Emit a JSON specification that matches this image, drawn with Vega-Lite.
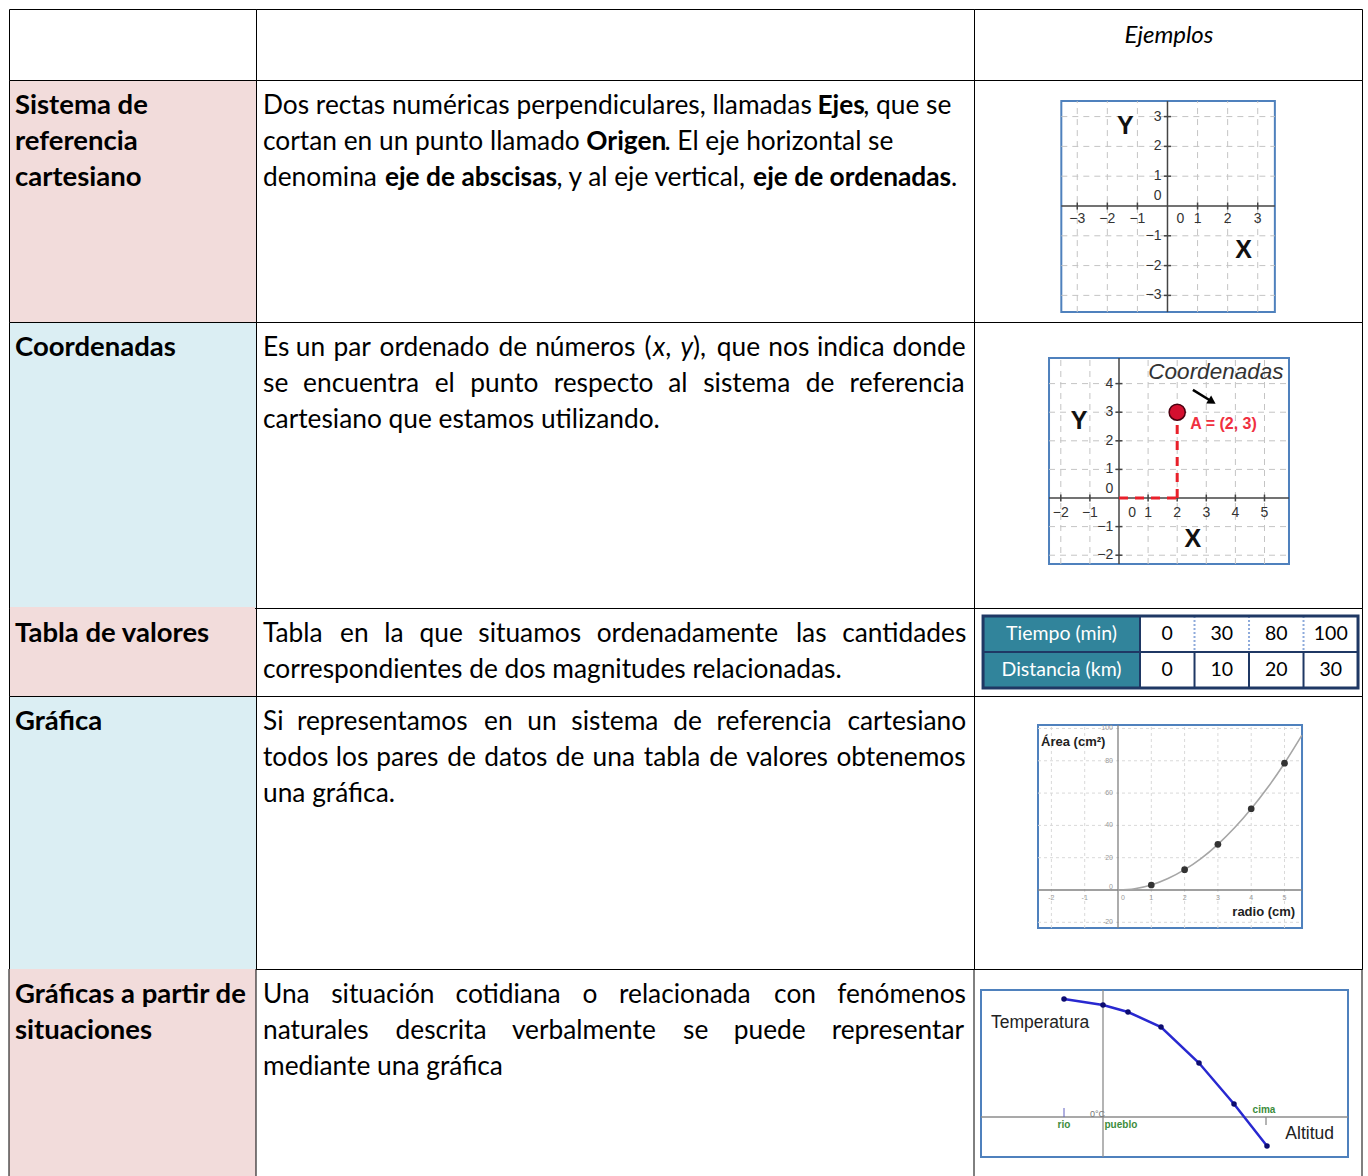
{
"$schema":"https://vega.github.io/schema/vega-lite/v6.json",
"padding":{"left":8,"top":8,"right":7,"bottom":0},
"background":"white",
"columns":3,
"spacing":0,
"align":"each",
"bounds":"flush",
"config":{"view":{"stroke":"black","strokeWidth":1},"concat":{"spacing":0},"text":{"font":"Lato"}},
"concat":[
 {"width":247,"height":71,"data":{"values":[{"t":"","x":6,"line":0}]},
  "mark":{"type":"text","align":"left","baseline":"alphabetic","font":"Lato","fontSize":24,"color":"black"},
  "encoding":{"x":{"field":"x","type":"quantitative","scale":{"domain":[0,247],"nice":false,"zero":false},"axis":null},
   "y":{"field":"line","type":"quantitative","scale":{"domain":[-0.95,1.033],"reverse":true,"nice":false,"zero":false},"axis":null},
   "text":{"field":"t"}}},
 {"width":718,"height":71,"data":{"values":[{"t":"","x":7,"line":0}]},
  "mark":{"type":"text","align":"left","baseline":"alphabetic","font":"Lato","fontSize":24,"color":"black"},
  "encoding":{"x":{"field":"x","type":"quantitative","scale":{"domain":[0,718],"nice":false,"zero":false},"axis":null},
   "y":{"field":"line","type":"quantitative","scale":{"domain":[-0.95,1.033],"reverse":true,"nice":false,"zero":false},"axis":null},
   "text":{"field":"t"}}},
 {"width":388,"height":71,"data":{"values":[{"t":"Ejemplos","x":195,"line":0}]},
  "mark":{"type":"text","align":"center","baseline":"alphabetic","font":"Lato","fontSize":24,"fontStyle":"italic","color":"black"},
  "encoding":{"x":{"field":"x","type":"quantitative","scale":{"domain":[0,388],"nice":false,"zero":false},"axis":null},
   "y":{"field":"line","type":"quantitative","scale":{"domain":[-0.95,1.033],"reverse":true,"nice":false,"zero":false},"axis":null},
   "text":{"field":"t"}}},
 {"width":247,"height":242,"view":{"fill":"#f2dcdb"},
  "data":{"values":[{"t":"Sistema de","x":6,"line":0},{"t":"referencia","x":6,"line":1},{"t":"cartesiano","x":6,"line":2}]},
  "mark":{"type":"text","align":"left","baseline":"alphabetic","font":"Lato","fontSize":27.5,"fontWeight":"bold","color":"black"},
  "encoding":{"x":{"field":"x","type":"quantitative","scale":{"domain":[0,247],"nice":false,"zero":false},"axis":null},
   "y":{"field":"line","type":"quantitative","scale":{"domain":[-0.95,5.81],"reverse":true,"nice":false,"zero":false},"axis":null},
   "text":{"field":"t"}}},
 {"width":718,"height":242,
  "data":{"values":[
   {"line":0,"x":7,"t":"Dos rectas numéricas perpendiculares, llamadas","s":"n"},
   {"line":0,"x":561.5,"t":"Ejes","s":"b"},
   {"line":0,"x":607.3,"t":", que se","s":"n"},
   {"line":1,"x":7,"t":"cortan en un punto llamado","s":"n"},
   {"line":1,"x":330.3,"t":"Origen","s":"b"},
   {"line":1,"x":408.4,"t":". El eje horizontal se","s":"n"},
   {"line":2,"x":7,"t":"denomina","s":"n"},
   {"line":2,"x":128.9,"t":"eje de abscisas","s":"b"},
   {"line":2,"x":300.5,"t":", y al eje vertical,","s":"n"},
   {"line":2,"x":497.1,"t":"eje de ordenadas","s":"b"},
   {"line":2,"x":695,"t":".","s":"n"}]},
  "encoding":{"x":{"field":"x","type":"quantitative","scale":{"domain":[0,718],"nice":false,"zero":false},"axis":null},
   "y":{"field":"line","type":"quantitative","scale":{"domain":[-0.95,5.81],"reverse":true,"nice":false,"zero":false},"axis":null},
   "text":{"field":"t"}},
  "layer":[
   {"transform":[{"filter":"datum.s === 'n'"}],"mark":{"type":"text","align":"left","baseline":"alphabetic","font":"Lato","fontSize":26.3,"color":"black"}},
   {"transform":[{"filter":"datum.s === 'b'"}],"mark":{"type":"text","align":"left","baseline":"alphabetic","font":"Lato","fontSize":26.3,"fontWeight":"bold","color":"black"}}
  ]},
 {"width":388,"height":242,"layer":[
  {"data":{"values":[{"x0":-3.53,"x1":3.57,"y0":-3.56,"y1":3.52}]},"mark":{"type":"rect","fill":"white","stroke":"#4f81bd","strokeWidth":2},
   "encoding":{"x":{"field":"x0","type":"quantitative","scale":{"domain":[-6.433,6.467],"nice":false,"zero":false},"axis":null},"x2":{"field":"x1"},
    "y":{"field":"y0","type":"quantitative","scale":{"domain":[-3.893,4.228],"nice":false,"zero":false},"axis":null},"y2":{"field":"y1"}}},
  {"data":{"values":[{"v":-3},{"v":-2},{"v":-1},{"v":1},{"v":2},{"v":3}]},"mark":{"type":"rule","color":"#c4c4c4","strokeWidth":1,"strokeDash":[6,5]},
   "encoding":{"x":{"field":"v","type":"quantitative","scale":{"domain":[-6.433,6.467],"nice":false,"zero":false},"axis":null},
    "y":{"datum":-3.56,"type":"quantitative","scale":{"domain":[-3.893,4.228],"nice":false,"zero":false},"axis":null},"y2":{"datum":3.52}}},
  {"data":{"values":[{"v":-3},{"v":-2},{"v":-1},{"v":1},{"v":2},{"v":3}]},"mark":{"type":"rule","color":"#c4c4c4","strokeWidth":1,"strokeDash":[6,5]},
   "encoding":{"y":{"field":"v","type":"quantitative","scale":{"domain":[-3.893,4.228],"nice":false,"zero":false},"axis":null},
    "x":{"datum":-3.53,"type":"quantitative","scale":{"domain":[-6.433,6.467],"nice":false,"zero":false},"axis":null},"x2":{"datum":3.57}}},
  {"data":{"values":[{"x0":-3.53,"x1":3.57,"y0":0,"y1":0},{"x0":0,"x1":0,"y0":-3.56,"y1":3.52}]},"mark":{"type":"rule","color":"#444444","strokeWidth":1.5},
   "encoding":{"x":{"field":"x0","type":"quantitative","scale":{"domain":[-6.433,6.467],"nice":false,"zero":false},"axis":null},"x2":{"field":"x1"},
    "y":{"field":"y0","type":"quantitative","scale":{"domain":[-3.893,4.228],"nice":false,"zero":false},"axis":null},"y2":{"field":"y1"}}},
  {"data":{"values":[{"v":-3},{"v":-2},{"v":-1},{"v":1},{"v":2},{"v":3}]},"mark":{"type":"rule","color":"#444444","strokeWidth":1.5},
   "encoding":{"x":{"field":"v","type":"quantitative","scale":{"domain":[-6.433,6.467],"nice":false,"zero":false},"axis":null},
    "y":{"datum":-0.12,"type":"quantitative","scale":{"domain":[-3.893,4.228],"nice":false,"zero":false},"axis":null},"y2":{"datum":0.12}}},
  {"data":{"values":[{"v":-3},{"v":-2},{"v":-1},{"v":1},{"v":2},{"v":3}]},"mark":{"type":"rule","color":"#444444","strokeWidth":1.5},
   "encoding":{"y":{"field":"v","type":"quantitative","scale":{"domain":[-3.893,4.228],"nice":false,"zero":false},"axis":null},
    "x":{"datum":-0.12,"type":"quantitative","scale":{"domain":[-6.433,6.467],"nice":false,"zero":false},"axis":null},"x2":{"datum":0.12}}},
  {"data":{"values":[{"x":-3,"y":-0.45,"t":"−3"},{"x":-2,"y":-0.45,"t":"−2"},{"x":-1,"y":-0.45,"t":"−1"},{"x":0.43,"y":-0.45,"t":"0"},{"x":1,"y":-0.45,"t":"1"},{"x":2,"y":-0.45,"t":"2"},{"x":3,"y":-0.45,"t":"3"}]},
   "mark":{"type":"text","font":"Liberation Sans","fontSize":14,"color":"#333333","align":"center","baseline":"middle"},
   "encoding":{"x":{"field":"x","type":"quantitative","scale":{"domain":[-6.433,6.467],"nice":false,"zero":false},"axis":null},
    "y":{"field":"y","type":"quantitative","scale":{"domain":[-3.893,4.228],"nice":false,"zero":false},"axis":null},"text":{"field":"t"}}},
  {"data":{"values":[{"x":-0.2,"y":3,"t":"3"},{"x":-0.2,"y":2,"t":"2"},{"x":-0.2,"y":1,"t":"1"},{"x":-0.2,"y":0.33,"t":"0"},{"x":-0.2,"y":-1,"t":"−1"},{"x":-0.2,"y":-2,"t":"−2"},{"x":-0.2,"y":-3,"t":"−3"}]},
   "mark":{"type":"text","font":"Liberation Sans","fontSize":14,"color":"#333333","align":"right","baseline":"middle"},
   "encoding":{"x":{"field":"x","type":"quantitative","scale":{"domain":[-6.433,6.467],"nice":false,"zero":false},"axis":null},
    "y":{"field":"y","type":"quantitative","scale":{"domain":[-3.893,4.228],"nice":false,"zero":false},"axis":null},"text":{"field":"t"}}},
  {"data":{"values":[{"x":-1.4,"y":2.68,"t":"Y"},{"x":2.53,"y":-1.48,"t":"X"}]},
   "mark":{"type":"text","font":"Liberation Sans","fontSize":25,"fontWeight":"bold","color":"#111111","align":"center","baseline":"middle"},
   "encoding":{"x":{"field":"x","type":"quantitative","scale":{"domain":[-6.433,6.467],"nice":false,"zero":false},"axis":null},
    "y":{"field":"y","type":"quantitative","scale":{"domain":[-3.893,4.228],"nice":false,"zero":false},"axis":null},"text":{"field":"t"}}}
 ]},
 {"width":247,"height":286,"view":{"fill":"#dbeef3"},
  "data":{"values":[{"t":"Coordenadas","x":6,"line":0}]},
  "mark":{"type":"text","align":"left","baseline":"alphabetic","font":"Lato","fontSize":27.5,"fontWeight":"bold","color":"black"},
  "encoding":{"x":{"field":"x","type":"quantitative","scale":{"domain":[0,247],"nice":false,"zero":false},"axis":null},
   "y":{"field":"line","type":"quantitative","scale":{"domain":[-0.95,7.039],"reverse":true,"nice":false,"zero":false},"axis":null},
   "text":{"field":"t"}}},
 {"width":718,"height":286,
  "data":{"values":[
   {"line":0,"x":7,"t":"Es","s":"n"},{"line":0,"x":39.8,"t":"un","s":"n"},{"line":0,"x":77.4,"t":"par","s":"n"},{"line":0,"x":123.5,"t":"ordenado","s":"n"},
   {"line":0,"x":242.4,"t":"de","s":"n"},{"line":0,"x":279.2,"t":"números","s":"n"},{"line":0,"x":388.6,"t":"(","s":"n"},{"line":0,"x":397.1,"t":"x","s":"i"},
   {"line":0,"x":409.2,"t":",","s":"n"},{"line":0,"x":424.4,"t":"y","s":"i"},{"line":0,"x":437.1,"t":"),","s":"n"},{"line":0,"x":460.8,"t":"que","s":"n"},
   {"line":0,"x":512.3,"t":"nos","s":"n"},{"line":0,"x":560.9,"t":"indica","s":"n"},{"line":0,"x":636.6,"t":"donde","s":"n"},
   {"line":1,"x":7,"t":"se","s":"n"},{"line":1,"x":47.1,"t":"encuentra","s":"n"},{"line":1,"x":178.7,"t":"el","s":"n"},{"line":1,"x":214.3,"t":"punto","s":"n"},
   {"line":1,"x":297.7,"t":"respecto","s":"n"},{"line":1,"x":412.2,"t":"al","s":"n"},{"line":1,"x":447.2,"t":"sistema","s":"n"},{"line":1,"x":549.8,"t":"de","s":"n"},
   {"line":1,"x":593.6,"t":"referencia","s":"n"},
   {"line":2,"x":7,"t":"cartesiano que estamos utilizando.","s":"n"}]},
  "encoding":{"x":{"field":"x","type":"quantitative","scale":{"domain":[0,718],"nice":false,"zero":false},"axis":null},
   "y":{"field":"line","type":"quantitative","scale":{"domain":[-0.95,7.039],"reverse":true,"nice":false,"zero":false},"axis":null},
   "text":{"field":"t"}},
  "layer":[
   {"transform":[{"filter":"datum.s === 'n'"}],"mark":{"type":"text","align":"left","baseline":"alphabetic","font":"Lato","fontSize":26.3,"color":"black"}},
   {"transform":[{"filter":"datum.s === 'i'"}],"mark":{"type":"text","align":"left","baseline":"alphabetic","font":"Lato","fontSize":26.3,"fontStyle":"italic","color":"black"}}
  ]},
 {"width":388,"height":286,"layer":[
  {"data":{"values":[{"x0":-2.405,"x1":5.842,"y0":-2.308,"y1":4.895}]},"mark":{"type":"rect","fill":"white","stroke":"#4f81bd","strokeWidth":2},
   "encoding":{"x":{"field":"x0","type":"quantitative","scale":{"domain":[-4.983,8.351],"nice":false,"zero":false},"axis":null},"x2":{"field":"x1"},
    "y":{"field":"y0","type":"quantitative","scale":{"domain":[-3.846,6.154],"nice":false,"zero":false},"axis":null},"y2":{"field":"y1"}}},
  {"data":{"values":[{"v":-2},{"v":-1},{"v":1},{"v":2},{"v":3},{"v":4},{"v":5}]},"mark":{"type":"rule","color":"#c4c4c4","strokeWidth":1,"strokeDash":[6,5]},
   "encoding":{"x":{"field":"v","type":"quantitative","scale":{"domain":[-4.983,8.351],"nice":false,"zero":false},"axis":null},
    "y":{"datum":-2.308,"type":"quantitative","scale":{"domain":[-3.846,6.154],"nice":false,"zero":false},"axis":null},"y2":{"datum":4.895}}},
  {"data":{"values":[{"v":-2},{"v":-1},{"v":1},{"v":2},{"v":3},{"v":4}]},"mark":{"type":"rule","color":"#c4c4c4","strokeWidth":1,"strokeDash":[6,5]},
   "encoding":{"y":{"field":"v","type":"quantitative","scale":{"domain":[-3.846,6.154],"nice":false,"zero":false},"axis":null},
    "x":{"datum":-2.405,"type":"quantitative","scale":{"domain":[-4.983,8.351],"nice":false,"zero":false},"axis":null},"x2":{"datum":5.842}}},
  {"data":{"values":[{"x0":-2.405,"x1":5.842,"y0":0,"y1":0},{"x0":0,"x1":0,"y0":-2.308,"y1":4.895}]},"mark":{"type":"rule","color":"#444444","strokeWidth":1.5},
   "encoding":{"x":{"field":"x0","type":"quantitative","scale":{"domain":[-4.983,8.351],"nice":false,"zero":false},"axis":null},"x2":{"field":"x1"},
    "y":{"field":"y0","type":"quantitative","scale":{"domain":[-3.846,6.154],"nice":false,"zero":false},"axis":null},"y2":{"field":"y1"}}},
  {"data":{"values":[{"v":-2},{"v":-1},{"v":1},{"v":2},{"v":3},{"v":4},{"v":5}]},"mark":{"type":"rule","color":"#444444","strokeWidth":1.5},
   "encoding":{"x":{"field":"v","type":"quantitative","scale":{"domain":[-4.983,8.351],"nice":false,"zero":false},"axis":null},
    "y":{"datum":-0.12,"type":"quantitative","scale":{"domain":[-3.846,6.154],"nice":false,"zero":false},"axis":null},"y2":{"datum":0.12}}},
  {"data":{"values":[{"v":-2},{"v":-1},{"v":1},{"v":2},{"v":3},{"v":4}]},"mark":{"type":"rule","color":"#444444","strokeWidth":1.5},
   "encoding":{"y":{"field":"v","type":"quantitative","scale":{"domain":[-3.846,6.154],"nice":false,"zero":false},"axis":null},
    "x":{"datum":-0.12,"type":"quantitative","scale":{"domain":[-4.983,8.351],"nice":false,"zero":false},"axis":null},"x2":{"datum":0.12}}},
  {"data":{"values":[{"x0":2,"x1":2,"y0":0,"y1":2.6},{"x0":0,"x1":2,"y0":0,"y1":0}]},"mark":{"type":"rule","color":"#e8202a","strokeWidth":3,"strokeDash":[9,7]},
   "encoding":{"x":{"field":"x0","type":"quantitative","scale":{"domain":[-4.983,8.351],"nice":false,"zero":false},"axis":null},"x2":{"field":"x1"},
    "y":{"field":"y0","type":"quantitative","scale":{"domain":[-3.846,6.154],"nice":false,"zero":false},"axis":null},"y2":{"field":"y1"}}},
  {"data":{"values":[{"x":-2,"y":-0.52,"t":"−2"},{"x":-1,"y":-0.52,"t":"−1"},{"x":0.45,"y":-0.52,"t":"0"},{"x":1,"y":-0.52,"t":"1"},{"x":2,"y":-0.52,"t":"2"},{"x":3,"y":-0.52,"t":"3"},{"x":4,"y":-0.52,"t":"4"},{"x":5,"y":-0.52,"t":"5"}]},
   "mark":{"type":"text","font":"Liberation Sans","fontSize":14,"color":"#333333","align":"center","baseline":"middle"},
   "encoding":{"x":{"field":"x","type":"quantitative","scale":{"domain":[-4.983,8.351],"nice":false,"zero":false},"axis":null},
    "y":{"field":"y","type":"quantitative","scale":{"domain":[-3.846,6.154],"nice":false,"zero":false},"axis":null},"text":{"field":"t"}}},
  {"data":{"values":[{"x":-0.2,"y":4,"t":"4"},{"x":-0.2,"y":3,"t":"3"},{"x":-0.2,"y":2,"t":"2"},{"x":-0.2,"y":1,"t":"1"},{"x":-0.2,"y":0.3,"t":"0"},{"x":-0.2,"y":-1,"t":"−1"},{"x":-0.2,"y":-2,"t":"−2"}]},
   "mark":{"type":"text","font":"Liberation Sans","fontSize":14,"color":"#333333","align":"right","baseline":"middle"},
   "encoding":{"x":{"field":"x","type":"quantitative","scale":{"domain":[-4.983,8.351],"nice":false,"zero":false},"axis":null},
    "y":{"field":"y","type":"quantitative","scale":{"domain":[-3.846,6.154],"nice":false,"zero":false},"axis":null},"text":{"field":"t"}}},
  {"data":{"values":[{"x":-1.37,"y":2.69,"t":"Y"},{"x":2.54,"y":-1.43,"t":"X"}]},
   "mark":{"type":"text","font":"Liberation Sans","fontSize":25,"fontWeight":"bold","color":"#111111","align":"center","baseline":"middle"},
   "encoding":{"x":{"field":"x","type":"quantitative","scale":{"domain":[-4.983,8.351],"nice":false,"zero":false},"axis":null},
    "y":{"field":"y","type":"quantitative","scale":{"domain":[-3.846,6.154],"nice":false,"zero":false},"axis":null},"text":{"field":"t"}}},
  {"data":{"values":[{"x":2,"y":3}]},"mark":{"type":"point","shape":"circle","filled":true,"size":260,"fill":"#d40f2f","stroke":"#4a0010","strokeWidth":1.5,"opacity":1},
   "encoding":{"x":{"field":"x","type":"quantitative","scale":{"domain":[-4.983,8.351],"nice":false,"zero":false},"axis":null},
    "y":{"field":"y","type":"quantitative","scale":{"domain":[-3.846,6.154],"nice":false,"zero":false},"axis":null}}},
  {"data":{"values":[{"x":2.45,"y":2.6,"t":"A = (2, 3)"}]},
   "mark":{"type":"text","font":"Liberation Sans","fontSize":16,"fontWeight":"bold","color":"#f03040","align":"left","baseline":"middle"},
   "encoding":{"x":{"field":"x","type":"quantitative","scale":{"domain":[-4.983,8.351],"nice":false,"zero":false},"axis":null},
    "y":{"field":"y","type":"quantitative","scale":{"domain":[-3.846,6.154],"nice":false,"zero":false},"axis":null},"text":{"field":"t"}}},
  {"data":{"values":[{"x":3.33,"y":4.4,"t":"Coordenadas"}]},
   "mark":{"type":"text","font":"Liberation Sans","fontSize":22.5,"fontStyle":"italic","color":"#333333","align":"center","baseline":"middle"},
   "encoding":{"x":{"field":"x","type":"quantitative","scale":{"domain":[-4.983,8.351],"nice":false,"zero":false},"axis":null},
    "y":{"field":"y","type":"quantitative","scale":{"domain":[-3.846,6.154],"nice":false,"zero":false},"axis":null},"text":{"field":"t"}}},
  {"data":{"values":[{"x0":2.54,"y0":3.78,"x1":3.12,"y1":3.42}]},"mark":{"type":"rule","color":"black","strokeWidth":2.5},
   "encoding":{"x":{"field":"x0","type":"quantitative","scale":{"domain":[-4.983,8.351],"nice":false,"zero":false},"axis":null},"x2":{"field":"x1"},
    "y":{"field":"y0","type":"quantitative","scale":{"domain":[-3.846,6.154],"nice":false,"zero":false},"axis":null},"y2":{"field":"y1"}}},
  {"data":{"values":[{"x":3.2,"y":3.37}]},"mark":{"type":"point","shape":"triangle-right","angle":32,"filled":true,"size":90,"color":"black","opacity":1},
   "encoding":{"x":{"field":"x","type":"quantitative","scale":{"domain":[-4.983,8.351],"nice":false,"zero":false},"axis":null},
    "y":{"field":"y","type":"quantitative","scale":{"domain":[-3.846,6.154],"nice":false,"zero":false},"axis":null}}}
 ]},
 {"width":247,"height":88,"view":{"fill":"#f2dcdb"},"layer":[
  {"data":{"values":[{"t":"Tabla de valores","x":6,"line":0}]},
   "mark":{"type":"text","align":"left","baseline":"alphabetic","font":"Lato","fontSize":27.5,"fontWeight":"bold","color":"black"},
   "encoding":{"x":{"field":"x","type":"quantitative","scale":{"domain":[0,247],"nice":false,"zero":false},"axis":null},
    "y":{"field":"line","type":"quantitative","scale":{"domain":[-0.95,1.508],"reverse":true,"nice":false,"zero":false},"axis":null},
    "text":{"field":"t"}}},
  {"data":{"values":[{"b":-0.95,"x0":1,"x1":246}]},"mark":{"type":"rule","color":"#f2dcdb","strokeWidth":2},
   "encoding":{"y":{"field":"b","type":"quantitative","scale":{"domain":[-0.95,1.508],"reverse":true,"nice":false,"zero":false},"axis":null},
    "x":{"field":"x0","type":"quantitative","scale":{"domain":[0,247],"nice":false,"zero":false},"axis":null},"x2":{"field":"x1"}}}
 ]},
 {"width":718,"height":88,
  "data":{"values":[
   {"line":0,"x":7,"t":"Tabla"},{"line":0,"x":84.1,"t":"en"},{"line":0,"x":128.2,"t":"la"},{"line":0,"x":163.5,"t":"que"},
   {"line":0,"x":222.3,"t":"situamos"},{"line":0,"x":340.7,"t":"ordenadamente"},{"line":0,"x":539.9,"t":"las"},{"line":0,"x":586.2,"t":"cantidades"},
   {"line":1,"x":7,"t":"correspondientes de dos magnitudes relacionadas."}]},
  "mark":{"type":"text","align":"left","baseline":"alphabetic","font":"Lato","fontSize":26.3,"color":"black"},
  "encoding":{"x":{"field":"x","type":"quantitative","scale":{"domain":[0,718],"nice":false,"zero":false},"axis":null},
   "y":{"field":"line","type":"quantitative","scale":{"domain":[-0.95,1.508],"reverse":true,"nice":false,"zero":false},"axis":null},
   "text":{"field":"t"}}},
 {"width":388,"height":88,"layer":[
  {"data":{"values":[{"c0":-2.38,"c1":0.5,"r0":0.5,"r1":2.5}]},"mark":{"type":"rect","fill":"#31849b"},
   "encoding":{"x":{"field":"c0","type":"quantitative","scale":{"domain":[-2.546,4.573],"nice":false,"zero":false},"axis":null},"x2":{"field":"c1"},
    "y":{"field":"r0","type":"quantitative","scale":{"domain":[0.278,2.722],"reverse":true,"nice":false,"zero":false},"axis":null},"y2":{"field":"r1"}}},
  {"data":{"values":[{"x0":1.5,"x1":1.5,"y0":0.5,"y1":1.5},{"x0":2.5,"x1":2.5,"y0":0.5,"y1":1.5},{"x0":3.5,"x1":3.5,"y0":0.5,"y1":1.5}]},
   "mark":{"type":"rule","color":"#8eaadb","strokeWidth":2,"strokeDash":[2,2]},
   "encoding":{"x":{"field":"x0","type":"quantitative","scale":{"domain":[-2.546,4.573],"nice":false,"zero":false},"axis":null},"x2":{"field":"x1"},
    "y":{"field":"y0","type":"quantitative","scale":{"domain":[0.278,2.722],"reverse":true,"nice":false,"zero":false},"axis":null},"y2":{"field":"y1"}}},
  {"data":{"values":[{"x0":-2.38,"x1":4.5,"y0":1.5,"y1":1.5},{"x0":0.5,"x1":0.5,"y0":0.5,"y1":2.5},{"x0":1.5,"x1":1.5,"y0":1.5,"y1":2.5},{"x0":2.5,"x1":2.5,"y0":1.5,"y1":2.5},{"x0":3.5,"x1":3.5,"y0":1.5,"y1":2.5}]},
   "mark":{"type":"rule","color":"#1f3864","strokeWidth":2},
   "encoding":{"x":{"field":"x0","type":"quantitative","scale":{"domain":[-2.546,4.573],"nice":false,"zero":false},"axis":null},"x2":{"field":"x1"},
    "y":{"field":"y0","type":"quantitative","scale":{"domain":[0.278,2.722],"reverse":true,"nice":false,"zero":false},"axis":null},"y2":{"field":"y1"}}},
  {"data":{"values":[{"c0":-2.38,"c1":4.5,"r0":0.5,"r1":2.5}]},"mark":{"type":"rect","filled":false,"stroke":"#1f3864","strokeWidth":3},
   "encoding":{"x":{"field":"c0","type":"quantitative","scale":{"domain":[-2.546,4.573],"nice":false,"zero":false},"axis":null},"x2":{"field":"c1"},
    "y":{"field":"r0","type":"quantitative","scale":{"domain":[0.278,2.722],"reverse":true,"nice":false,"zero":false},"axis":null},"y2":{"field":"r1"}}},
  {"data":{"values":[{"magnitud":"Tiempo (min)","fila":1},{"magnitud":"Distancia (km)","fila":2}]},
   "mark":{"type":"text","font":"Lato","fontSize":19.5,"color":"white","align":"center","baseline":"middle"},
   "encoding":{"x":{"datum":-0.94,"type":"quantitative","scale":{"domain":[-2.546,4.573],"nice":false,"zero":false},"axis":null},
    "y":{"field":"fila","type":"quantitative","scale":{"domain":[0.278,2.722],"reverse":true,"nice":false,"zero":false},"axis":null},"text":{"field":"magnitud"}}},
  {"data":{"values":[
   {"magnitud":"Tiempo (min)","fila":1,"col":1,"valor":0},{"magnitud":"Tiempo (min)","fila":1,"col":2,"valor":30},
   {"magnitud":"Tiempo (min)","fila":1,"col":3,"valor":80},{"magnitud":"Tiempo (min)","fila":1,"col":4,"valor":100},
   {"magnitud":"Distancia (km)","fila":2,"col":1,"valor":0},{"magnitud":"Distancia (km)","fila":2,"col":2,"valor":10},
   {"magnitud":"Distancia (km)","fila":2,"col":3,"valor":20},{"magnitud":"Distancia (km)","fila":2,"col":4,"valor":30}]},
   "mark":{"type":"text","font":"Lato","fontSize":19.5,"color":"black","align":"center","baseline":"middle"},
   "encoding":{"x":{"field":"col","type":"quantitative","scale":{"domain":[-2.546,4.573],"nice":false,"zero":false},"axis":null},
    "y":{"field":"fila","type":"quantitative","scale":{"domain":[0.278,2.722],"reverse":true,"nice":false,"zero":false},"axis":null},"text":{"field":"valor"}}}
 ]},
 {"width":247,"height":273,"view":{"fill":"#dbeef3"},
  "data":{"values":[{"t":"Gráfica","x":6,"line":0}]},
  "mark":{"type":"text","align":"left","baseline":"alphabetic","font":"Lato","fontSize":27.5,"fontWeight":"bold","color":"black"},
  "encoding":{"x":{"field":"x","type":"quantitative","scale":{"domain":[0,247],"nice":false,"zero":false},"axis":null},
   "y":{"field":"line","type":"quantitative","scale":{"domain":[-0.95,6.676],"reverse":true,"nice":false,"zero":false},"axis":null},
   "text":{"field":"t"}}},
 {"width":718,"height":273,
  "data":{"values":[
   {"line":0,"x":7,"t":"Si"},{"line":0,"x":40.9,"t":"representamos"},{"line":0,"x":228.1,"t":"en"},{"line":0,"x":271.3,"t":"un"},
   {"line":0,"x":315.3,"t":"sistema"},{"line":0,"x":417.3,"t":"de"},{"line":0,"x":460.5,"t":"referencia"},{"line":0,"x":591.4,"t":"cartesiano"},
   {"line":1,"x":7,"t":"todos"},{"line":1,"x":79.8,"t":"los"},{"line":1,"x":120.2,"t":"pares"},{"line":1,"x":191.3,"t":"de"},
   {"line":1,"x":228.2,"t":"datos"},{"line":1,"x":299.7,"t":"de"},{"line":1,"x":336.6,"t":"una"},{"line":1,"x":387.7,"t":"tabla"},
   {"line":1,"x":453.3,"t":"de"},{"line":1,"x":490.2,"t":"valores"},{"line":1,"x":580.4,"t":"obtenemos"},
   {"line":2,"x":7,"t":"una gráfica."}]},
  "mark":{"type":"text","align":"left","baseline":"alphabetic","font":"Lato","fontSize":26.3,"color":"black"},
  "encoding":{"x":{"field":"x","type":"quantitative","scale":{"domain":[0,718],"nice":false,"zero":false},"axis":null},
   "y":{"field":"line","type":"quantitative","scale":{"domain":[-0.95,6.676],"reverse":true,"nice":false,"zero":false},"axis":null},
   "text":{"field":"t"}}},
 {"width":388,"height":273,"layer":[
  {"data":{"values":[{"x0":-2.402,"x1":5.526,"y0":-23.5,"y1":102.2}]},"mark":{"type":"rect","fill":"white","stroke":"#4f81bd","strokeWidth":2},
   "encoding":{"x":{"field":"x0","type":"quantitative","scale":{"domain":[-4.324,7.327],"nice":false,"zero":false},"axis":null},"x2":{"field":"x1"},
    "y":{"field":"y0","type":"quantitative","scale":{"domain":[-48.9,120.1],"nice":false,"zero":false},"axis":null},"y2":{"field":"y1"}}},
  {"data":{"values":[{"v":-2},{"v":-1},{"v":1},{"v":2},{"v":3},{"v":4},{"v":5}]},"mark":{"type":"rule","color":"#d9d9d9","strokeWidth":1,"strokeDash":[3,3]},
   "encoding":{"x":{"field":"v","type":"quantitative","scale":{"domain":[-4.324,7.327],"nice":false,"zero":false},"axis":null},
    "y":{"datum":-23.5,"type":"quantitative","scale":{"domain":[-48.9,120.1],"nice":false,"zero":false},"axis":null},"y2":{"datum":102.2}}},
  {"data":{"values":[{"v":-20},{"v":20},{"v":40},{"v":60},{"v":80},{"v":100}]},"mark":{"type":"rule","color":"#d9d9d9","strokeWidth":1,"strokeDash":[3,3]},
   "encoding":{"y":{"field":"v","type":"quantitative","scale":{"domain":[-48.9,120.1],"nice":false,"zero":false},"axis":null},
    "x":{"datum":-2.402,"type":"quantitative","scale":{"domain":[-4.324,7.327],"nice":false,"zero":false},"axis":null},"x2":{"datum":5.526}}},
  {"data":{"values":[{"x0":-2.402,"x1":5.526,"y0":0,"y1":0},{"x0":0,"x1":0,"y0":-23.5,"y1":102.2}]},"mark":{"type":"rule","color":"#808080","strokeWidth":1.3},
   "encoding":{"x":{"field":"x0","type":"quantitative","scale":{"domain":[-4.324,7.327],"nice":false,"zero":false},"axis":null},"x2":{"field":"x1"},
    "y":{"field":"y0","type":"quantitative","scale":{"domain":[-48.9,120.1],"nice":false,"zero":false},"axis":null},"y2":{"field":"y1"}}},
  {"data":{"values":[{"x":-2,"y":-5,"t":"-2"},{"x":-1,"y":-5,"t":"-1"},{"x":0.15,"y":-5,"t":"0"},{"x":1,"y":-5,"t":"1"},{"x":2,"y":-5,"t":"2"},{"x":3,"y":-5,"t":"3"},{"x":4,"y":-5,"t":"4"},{"x":5,"y":-5,"t":"5"}]},
   "mark":{"type":"text","font":"Liberation Sans","fontSize":7,"color":"#999999","align":"center","baseline":"middle"},
   "encoding":{"x":{"field":"x","type":"quantitative","scale":{"domain":[-4.324,7.327],"nice":false,"zero":false},"axis":null},
    "y":{"field":"y","type":"quantitative","scale":{"domain":[-48.9,120.1],"nice":false,"zero":false},"axis":null},"text":{"field":"t"}}},
  {"data":{"values":[{"x":-0.15,"y":100,"t":"100"},{"x":-0.15,"y":80,"t":"80"},{"x":-0.15,"y":60,"t":"60"},{"x":-0.15,"y":40,"t":"40"},{"x":-0.15,"y":20,"t":"20"},{"x":-0.15,"y":2,"t":"0"},{"x":-0.15,"y":-20,"t":"-20"}]},
   "mark":{"type":"text","font":"Liberation Sans","fontSize":7,"color":"#999999","align":"right","baseline":"middle"},
   "encoding":{"x":{"field":"x","type":"quantitative","scale":{"domain":[-4.324,7.327],"nice":false,"zero":false},"axis":null},
    "y":{"field":"y","type":"quantitative","scale":{"domain":[-48.9,120.1],"nice":false,"zero":false},"axis":null},"text":{"field":"t"}}},
  {"data":{"values":[{"r":0,"a":0},{"r":0.5,"a":0.8},{"r":1,"a":3.1},{"r":1.5,"a":7.1},{"r":2,"a":12.6},{"r":2.5,"a":19.6},{"r":3,"a":28.3},{"r":3.5,"a":38.5},{"r":4,"a":50.3},{"r":4.5,"a":63.6},{"r":5,"a":78.5},{"r":5.52,"a":95.7}]},
   "mark":{"type":"line","color":"#a6a6a6","strokeWidth":1.6,"interpolate":"monotone"},
   "encoding":{"x":{"field":"r","type":"quantitative","scale":{"domain":[-4.324,7.327],"nice":false,"zero":false},"axis":null},
    "y":{"field":"a","type":"quantitative","scale":{"domain":[-48.9,120.1],"nice":false,"zero":false},"axis":null}}},
  {"data":{"values":[{"r":1,"a":3.1},{"r":2,"a":12.6},{"r":3,"a":28.3},{"r":4,"a":50.3},{"r":5,"a":78.5}]},
   "mark":{"type":"point","filled":true,"size":45,"color":"#333333","opacity":1},
   "encoding":{"x":{"field":"r","type":"quantitative","scale":{"domain":[-4.324,7.327],"nice":false,"zero":false},"axis":null},
    "y":{"field":"a","type":"quantitative","scale":{"domain":[-48.9,120.1],"nice":false,"zero":false},"axis":null}}},
  {"data":{"values":[{"x":-2.31,"y":91.6,"t":"Área (cm²)"}]},
   "mark":{"type":"text","font":"Liberation Sans","fontSize":13,"fontWeight":"bold","color":"#222222","align":"left","baseline":"middle"},
   "encoding":{"x":{"field":"x","type":"quantitative","scale":{"domain":[-4.324,7.327],"nice":false,"zero":false},"axis":null},
    "y":{"field":"y","type":"quantitative","scale":{"domain":[-48.9,120.1],"nice":false,"zero":false},"axis":null},"text":{"field":"t"}}},
  {"data":{"values":[{"x":5.32,"y":-13.6,"t":"radio (cm)"}]},
   "mark":{"type":"text","font":"Liberation Sans","fontSize":13,"fontWeight":"bold","color":"#222222","align":"right","baseline":"middle"},
   "encoding":{"x":{"field":"x","type":"quantitative","scale":{"domain":[-4.324,7.327],"nice":false,"zero":false},"axis":null},
    "y":{"field":"y","type":"quantitative","scale":{"domain":[-48.9,120.1],"nice":false,"zero":false},"axis":null},"text":{"field":"t"}}}
 ]},
 {"width":247,"height":208,"view":{"fill":"#f2dcdb","stroke":null},"layer":[
  {"data":{"values":[{"t":"Gráficas a partir de","x":6,"line":0},{"t":"situaciones","x":6,"line":1}]},
   "mark":{"type":"text","align":"left","baseline":"alphabetic","font":"Lato","fontSize":27.5,"fontWeight":"bold","color":"black"},
   "encoding":{"x":{"field":"x","type":"quantitative","scale":{"domain":[0,247],"nice":false,"zero":false},"axis":null},
    "y":{"field":"line","type":"quantitative","scale":{"domain":[-0.95,4.86],"reverse":true,"nice":false,"zero":false},"axis":null},
    "text":{"field":"t"}}},
  {"data":{"values":[{"b":0}]},"mark":{"type":"rule","color":"black","strokeWidth":1},
   "encoding":{"x":{"field":"b","type":"quantitative","scale":{"domain":[0,247],"nice":false,"zero":false},"axis":null}}}
 ]},
 {"width":718,"height":208,"view":{"stroke":null},"layer":[
  {"data":{"values":[
   {"line":0,"x":7,"t":"Una"},{"line":0,"x":75.2,"t":"situación"},{"line":0,"x":199.6,"t":"cotidiana"},{"line":0,"x":326.4,"t":"o"},
   {"line":0,"x":363,"t":"relacionada"},{"line":0,"x":518.1,"t":"con"},{"line":0,"x":581.2,"t":"fenómenos"},
   {"line":1,"x":7,"t":"naturales"},{"line":1,"x":139.6,"t":"descrita"},{"line":1,"x":255.9,"t":"verbalmente"},{"line":1,"x":427,"t":"se"},
   {"line":1,"x":477.8,"t":"puede"},{"line":1,"x":575.7,"t":"representar"},
   {"line":2,"x":7,"t":"mediante una gráfica"}]},
   "mark":{"type":"text","align":"left","baseline":"alphabetic","font":"Lato","fontSize":26.3,"color":"black"},
   "encoding":{"x":{"field":"x","type":"quantitative","scale":{"domain":[0,718],"nice":false,"zero":false},"axis":null},
    "y":{"field":"line","type":"quantitative","scale":{"domain":[-0.95,4.86],"reverse":true,"nice":false,"zero":false},"axis":null},
    "text":{"field":"t"}}},
  {"data":{"values":[{"b":0}]},"mark":{"type":"rule","color":"black","strokeWidth":1},
   "encoding":{"x":{"field":"b","type":"quantitative","scale":{"domain":[0,718],"nice":false,"zero":false},"axis":null}}}
 ]},
 {"width":388,"height":208,"view":{"stroke":null},"layer":[
  {"data":{"values":[{"x0":-12.2,"x1":24.5,"y0":-4.0,"y1":12.7}]},"mark":{"type":"rect","fill":"white","stroke":"#4f81bd","strokeWidth":2},
   "encoding":{"x":{"field":"x0","type":"quantitative","scale":{"domain":[-12.9,25.9],"nice":false,"zero":false},"axis":null},"x2":{"field":"x1"},
    "y":{"field":"y0","type":"quantitative","scale":{"domain":[-6.0,14.8],"nice":false,"zero":false},"axis":null},"y2":{"field":"y1"}}},
  {"data":{"values":[{"x0":-12.2,"x1":24.5,"y0":0,"y1":0},{"x0":0,"x1":0,"y0":-4.0,"y1":12.7},{"x0":16.3,"x1":16.3,"y0":-0.8,"y1":0}]},"mark":{"type":"rule","color":"#8c8c8c","strokeWidth":1.3},
   "encoding":{"x":{"field":"x0","type":"quantitative","scale":{"domain":[-12.9,25.9],"nice":false,"zero":false},"axis":null},"x2":{"field":"x1"},
    "y":{"field":"y0","type":"quantitative","scale":{"domain":[-6.0,14.8],"nice":false,"zero":false},"axis":null},"y2":{"field":"y1"}}},
  {"data":{"values":[{"x0":-3.9,"x1":-3.9,"y0":0,"y1":0.9}]},"mark":{"type":"rule","color":"#6060c0","strokeWidth":1},
   "encoding":{"x":{"field":"x0","type":"quantitative","scale":{"domain":[-12.9,25.9],"nice":false,"zero":false},"axis":null},"x2":{"field":"x1"},
    "y":{"field":"y0","type":"quantitative","scale":{"domain":[-6.0,14.8],"nice":false,"zero":false},"axis":null},"y2":{"field":"y1"}}},
  {"data":{"values":[{"altitud":-3.9,"temperatura":11.8},{"altitud":0,"temperatura":11.2},{"altitud":2.5,"temperatura":10.5},{"altitud":5.8,"temperatura":9.0},{"altitud":9.6,"temperatura":5.4},{"altitud":13.1,"temperatura":1.3},{"altitud":16.4,"temperatura":-2.9}]},
   "layer":[
    {"mark":{"type":"line","color":"#2828d0","strokeWidth":2.5}},
    {"mark":{"type":"point","filled":true,"size":30,"color":"#0c0c70","opacity":1}}
   ],
   "encoding":{"x":{"field":"altitud","type":"quantitative","scale":{"domain":[-12.9,25.9],"nice":false,"zero":false},"axis":null},
    "y":{"field":"temperatura","type":"quantitative","scale":{"domain":[-6.0,14.8],"nice":false,"zero":false},"axis":null}}},
  {"data":{"values":[{"x":-3.9,"y":-0.75,"t":"rio"},{"x":16.1,"y":0.75,"t":"cima"}]},
   "mark":{"type":"text","font":"Liberation Sans","fontSize":10,"fontWeight":"bold","color":"#3c8c3c","align":"center","baseline":"middle"},
   "encoding":{"x":{"field":"x","type":"quantitative","scale":{"domain":[-12.9,25.9],"nice":false,"zero":false},"axis":null},
    "y":{"field":"y","type":"quantitative","scale":{"domain":[-6.0,14.8],"nice":false,"zero":false},"axis":null},"text":{"field":"t"}}},
  {"data":{"values":[{"x":0.15,"y":-0.75,"t":"pueblo"}]},
   "mark":{"type":"text","font":"Liberation Sans","fontSize":10,"fontWeight":"bold","color":"#3c8c3c","align":"left","baseline":"middle"},
   "encoding":{"x":{"field":"x","type":"quantitative","scale":{"domain":[-12.9,25.9],"nice":false,"zero":false},"axis":null},
    "y":{"field":"y","type":"quantitative","scale":{"domain":[-6.0,14.8],"nice":false,"zero":false},"axis":null},"text":{"field":"t"}}},
  {"data":{"values":[{"x":0.2,"y":0.35,"t":"0°C"}]},
   "mark":{"type":"text","font":"Liberation Sans","fontSize":9,"color":"#777777","align":"right","baseline":"middle"},
   "encoding":{"x":{"field":"x","type":"quantitative","scale":{"domain":[-12.9,25.9],"nice":false,"zero":false},"axis":null},
    "y":{"field":"y","type":"quantitative","scale":{"domain":[-6.0,14.8],"nice":false,"zero":false},"axis":null},"text":{"field":"t"}}},
  {"data":{"values":[{"x":-11.2,"y":9.4,"t":"Temperatura"}]},
   "mark":{"type":"text","font":"Liberation Sans","fontSize":17.5,"color":"#222222","align":"left","baseline":"middle"},
   "encoding":{"x":{"field":"x","type":"quantitative","scale":{"domain":[-12.9,25.9],"nice":false,"zero":false},"axis":null},
    "y":{"field":"y","type":"quantitative","scale":{"domain":[-6.0,14.8],"nice":false,"zero":false},"axis":null},"text":{"field":"t"}}},
  {"data":{"values":[{"x":23.1,"y":-1.7,"t":"Altitud"}]},
   "mark":{"type":"text","font":"Liberation Sans","fontSize":17.5,"color":"#222222","align":"right","baseline":"middle"},
   "encoding":{"x":{"field":"x","type":"quantitative","scale":{"domain":[-12.9,25.9],"nice":false,"zero":false},"axis":null},
    "y":{"field":"y","type":"quantitative","scale":{"domain":[-6.0,14.8],"nice":false,"zero":false},"axis":null},"text":{"field":"t"}}},
  {"data":{"values":[{"b":-12.9},{"b":25.9}]},"mark":{"type":"rule","color":"black","strokeWidth":1},
   "encoding":{"x":{"field":"b","type":"quantitative","scale":{"domain":[-12.9,25.9],"nice":false,"zero":false},"axis":null}}}
 ]}
]
}
